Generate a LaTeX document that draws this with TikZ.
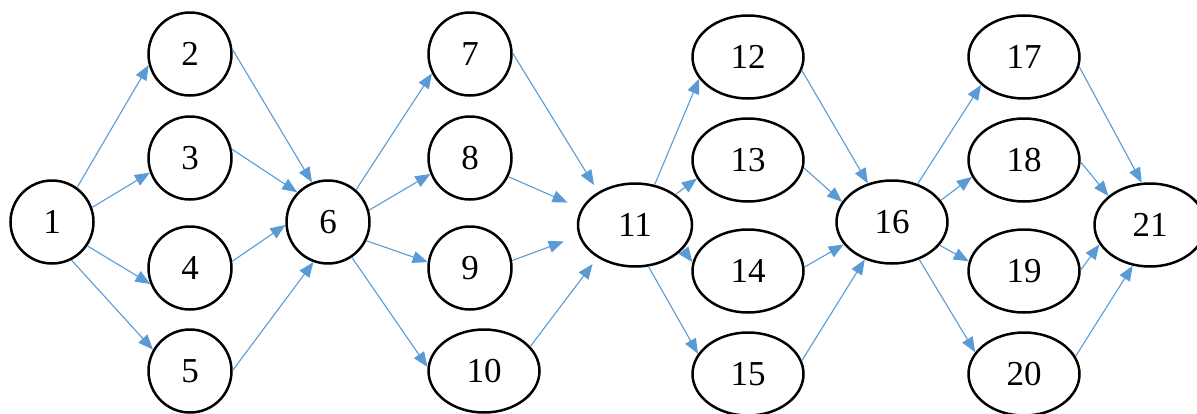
\documentclass[tikz,border=0pt]{standalone}
\usepackage{fontspec}
\setmainfont{Liberation Serif}
\usetikzlibrary{shapes.geometric,arrows.meta}
\definecolor{arrblue}{RGB}{91,155,213}
\begin{document}
\begin{tikzpicture}[x=1pt,y=-1pt,
  circ/.style={ellipse, draw=black, line width=2.5pt, minimum width=83pt, minimum height=83pt, inner sep=0pt, font=\fontsize{35}{40}\selectfont},
  wide/.style={circ, minimum width=111pt},
  arr/.style={draw=arrblue, line width=1.1pt, -{Triangle[length=15pt,width=12pt]}}]
\useasboundingbox (0,0) rectangle (1197,413);
\fill[white] (0,0) rectangle (1197,413);
\node[circ] (n1) at (52,222) {1};
\node[circ] (n2) at (190,54) {2};
\node[circ] (n3) at (190,158) {3};
\node[circ] (n4) at (190,268) {4};
\node[circ] (n5) at (190,371) {5};
\node[circ] (n6) at (328,222) {6};
\node[circ] (n7) at (470,54) {7};
\node[circ] (n8) at (470,158) {8};
\node[circ] (n9) at (470,268) {9};
\node[wide] (n10) at (484,371) {10};
\node[wide, minimum width=114pt] (n11) at (635,225) {11};
\node[wide] (n12) at (748,57) {12};
\node[wide] (n13) at (748,160) {13};
\node[wide] (n14) at (748,271) {14};
\node[wide] (n15) at (748,374) {15};
\node[wide] (n16) at (892,222) {16};
\node[wide] (n17) at (1024,57) {17};
\node[wide] (n18) at (1024,160) {18};
\node[wide] (n19) at (1024,271) {19};
\node[wide] (n20) at (1024,374) {20};
\node[wide] (n21) at (1150,225) {21};
% 1 -> 2..5
\draw[arr] (n1.54) -- (n2.195);
\draw[arr] (n1.20) -- (n3.200);
\draw[arr] (n1.326) -- (n4.202);
\draw[arr] (n1.297) -- (n5.150);
% 2..5 -> 6
\draw[arr] (n2.6) -- (n6.112);
\draw[arr] (n3.12) -- (n6.136);
\draw[arr] (n4.9) -- (n6.184);
\draw[arr] (n5.1) -- (n6.250);
% 6 -> 7..10
\draw[arr] (n6.49) -- (n7.207);
\draw[arr] (n6.16) -- (n8.202);
\draw[arr] (n6.334) -- (n9.172);
\draw[arr] (n6.304) -- (n10.176);
% 7..10 -> 11
\draw[arr, shorten >=8pt] (n7.1) -- (n11.138);
\draw[arr, shorten >=15pt] (n8.334) -- (n11.163);
\draw[arr, shorten >=16pt] (n9.10) -- (n11.191);
\draw[arr, shorten >=8pt] (n10.28) -- (n11.221);
% 11 -> 12..15
\draw[arr] (n11.64) -- (n12.204);
\draw[arr] (n11.37) -- (n13.200);
\draw[arr] (n11.333) -- (n14.171);
\draw[arr] (n11.288) -- (n15.158);
% 12..15 -> 16
\draw[arr] (n12.346) -- (n16.122);
\draw[arr] (n13.352) -- (n16.158);
\draw[arr] (n14.4) -- (n16.205);
\draw[arr] (n15.14) -- (n16.234);
% 16 -> 17..20
\draw[arr] (n16.56) -- (n17.213);
\draw[arr] (n16.24) -- (n18.198);
\draw[arr] (n16.334) -- (n19.170);
\draw[arr] (n16.306) -- (n20.156);
% 17..20 -> 21
\draw[arr] (n17.350) -- (n21.101);
\draw[arr] (n18.358) -- (n21.145);
\draw[arr] (n19.1) -- (n21.201);
\draw[arr] (n20.19) -- (n21.247);
\end{tikzpicture}
\end{document}
